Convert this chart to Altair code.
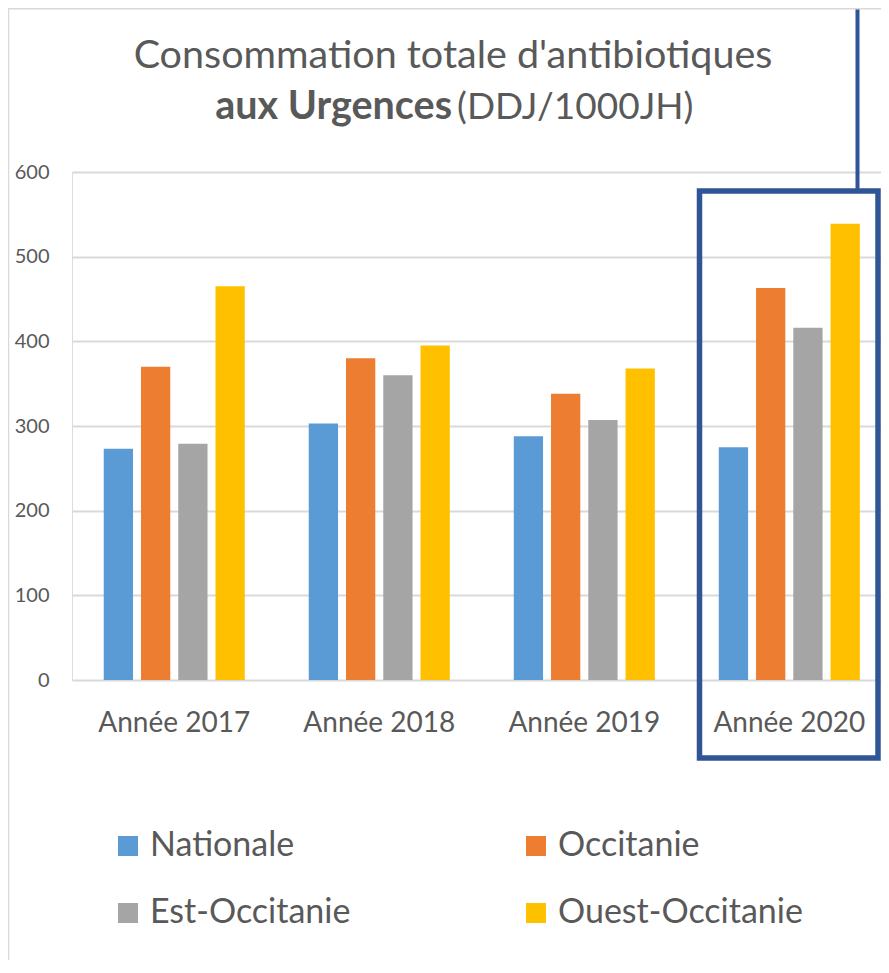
import altair as alt
import pandas as pd

years = ["Année 2017", "Année 2018", "Année 2019", "Année 2020"]
series = ["Nationale", "Occitanie", "Est-Occitanie", "Ouest-Occitanie"]
nationale = [273, 303, 288, 275]
occitanie = [370, 380, 338, 463]
est_occitanie = [279, 360, 307, 416]
ouest_occitanie = [465, 395, 368, 539]
colors = ["#5B9BD5", "#ED7D31", "#A5A5A5", "#FFC000"]

title_line1 = "Consommation  totale d'antibiotiques"
title_bold = "aux Urgences"
title_rest = "(DDJ/1000JH)"

rows = []
for s, vals in zip(series, [nationale, occitanie, est_occitanie, ouest_occitanie]):
    for y, v in zip(years, vals):
        rows.append({"annee": y, "serie": s, "valeur": v})
df = pd.DataFrame(rows)

FONT = "Lato"
GRAY_TXT = "#595959"
BLUE_BOX = "#2F5597"
W, H = 809, 508

bars = alt.Chart(df).mark_bar().encode(
    x=alt.X("annee:N", sort=years,
            scale=alt.Scale(paddingInner=0.312, paddingOuter=0.129, align=0.6),
            axis=alt.Axis(title=None, labelAngle=0, ticks=False, tickSize=0, domain=False,
                          labelFontSize=28, labelColor=GRAY_TXT, labelFont=FONT,
                          labelBaseline="alphabetic", labelPadding=51, grid=False)),
    xOffset=alt.XOffset("serie:N", sort=series, scale=alt.Scale(paddingInner=0.214, paddingOuter=0)),
    y=alt.Y("valeur:Q", scale=alt.Scale(domain=[0, 600], nice=False),
            axis=alt.Axis(title=None, values=[0, 100, 200, 300, 400, 500, 600], ticks=False,
                          tickSize=0, domain=False, labelFontSize=20, labelColor=GRAY_TXT,
                          labelFont=FONT, labelPadding=23, gridColor="#D9D9D9", gridWidth=2)),
    color=alt.Color("serie:N", sort=series, scale=alt.Scale(domain=series, range=colors),
                    legend=alt.Legend(title=None, orient="none", legendX=39, legendY=657,
                                      columns=2, direction="horizontal",
                                      symbolType="square", symbolSize=400, symbolStrokeWidth=0,
                                      labelFontSize=34, labelFont=FONT, labelColor=GRAY_TXT,
                                      labelOffset=5, rowPadding=33, columnPadding=168,
                                      padding=0, labelLimit=400)),
)

one = pd.DataFrame({"_": [0]})

box = alt.Chart(one).mark_rect(fill=None, stroke=BLUE_BOX, strokeWidth=5.5).encode(
    x=alt.value(627.5), x2=alt.value(806), y=alt.value(19), y2=alt.value(586))
connector = alt.Chart(one).mark_rule(stroke=BLUE_BOX, strokeWidth=4).encode(
    x=alt.value(785.5), y=alt.value(-170), y2=alt.value(19))
border_left = alt.Chart(one).mark_rule(stroke="#D9D9D9", strokeWidth=1.5).encode(
    x=alt.value(-63.5), y=alt.value(-170), y2=alt.value(800))
border_top = alt.Chart(one).mark_rule(stroke="#D9D9D9", strokeWidth=1.5).encode(
    x=alt.value(-64), x2=alt.value(820), y=alt.value(-163.3))

t1 = alt.Chart(one).mark_text(font=FONT, fontSize=39.5, color=GRAY_TXT, align="center",
                              baseline="alphabetic").encode(
    x=alt.value(381), y=alt.value(-104), text=alt.value(title_line1))
t2 = alt.Chart(one).mark_text(font=FONT, fontSize=39.5, fontWeight="bold", color=GRAY_TXT,
                              align="right", baseline="alphabetic").encode(
    x=alt.value(380), y=alt.value(-53), text=alt.value(title_bold))
t3 = alt.Chart(one).mark_text(font=FONT, fontSize=37, color=GRAY_TXT, align="left",
                              baseline="alphabetic").encode(
    x=alt.value(385), y=alt.value(-53), text=alt.value(title_rest))

chart = alt.layer(bars, box, connector, border_left, border_top, t1, t2, t3).properties(
    width=W, height=H,
    autosize=alt.AutoSizeParams(type="none"),
    padding={"left": 64, "top": 164, "right": 0, "bottom": 280},
).configure_view(stroke=None).configure(background="white")

chart.save("out.html", embed_options={"renderer": "svg", "actions": False})
